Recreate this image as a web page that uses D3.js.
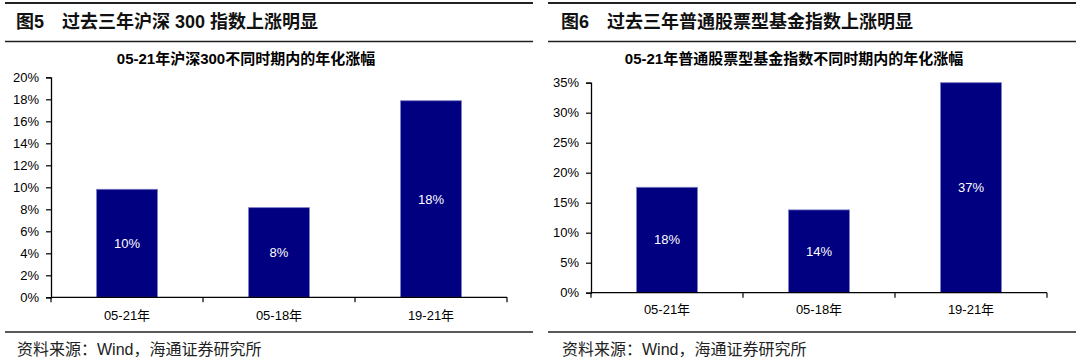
<!DOCTYPE html>
<html>
<head>
<meta charset="utf-8">
<script src="https://cdn.jsdelivr.net/npm/d3@7"></script>
<style>
  html, body { margin: 0; padding: 0; background: #fff; }
  svg { display: block; }
  text { font-family: "Liberation Sans", Arial, "Noto Sans CJK SC", sans-serif; }
</style>
</head>
<body>
<svg id="chart" width="1080" height="360"></svg>
<script>
// ---- data ----
const categories = ["05-21年", "05-18年", "19-21年"];
const hs300Values = [0.0982, 0.0815, 0.1787];
const fundValues = [0.1757, 0.138, 0.37];
const hs300Ticks = [0, 0.02, 0.04, 0.06, 0.08, 0.10, 0.12, 0.14, 0.16, 0.18, 0.20];
const fundTicks = [0, 0.05, 0.10, 0.15, 0.20, 0.25, 0.30, 0.35];
const headerNums = ["图5", "图6"];
const headerTitles = ["过去三年沪深 300 指数上涨明显", "过去三年普通股票型基金指数上涨明显"];
const chartTitles = ["05-21年沪深300不同时期内的年化涨幅", "05-21年普通股票型基金指数不同时期内的年化涨幅"];
const sourceText = "资料来源：Wind，海通证券研究所";

const svg = d3.select("#chart");
const pct = d3.format(".0%");

function drawPanel(opt) {
  const g = svg.append("g");
  // frame lines
  g.append("line").attr("x1", opt.lineX0).attr("x2", opt.lineX1).attr("y1", 3).attr("y2", 3)
    .attr("stroke", "#222").attr("stroke-width", 2);
  g.append("line").attr("x1", opt.lineX0).attr("x2", opt.lineX1).attr("y1", 41.5).attr("y2", 41.5)
    .attr("stroke", "#222").attr("stroke-width", 1.6);
  g.append("line").attr("x1", opt.lineX0).attr("x2", opt.lineX1).attr("y1", 332).attr("y2", 332)
    .attr("stroke", "#222").attr("stroke-width", 1.6);
  // header
  g.append("text").attr("x", opt.headX).attr("y", 22).attr("dominant-baseline", "central")
    .attr("font-size", 18).attr("font-weight", "bold").attr("fill", "#111").text(opt.headNum);
  g.append("text").attr("x", opt.headX + 46).attr("y", 22).attr("dominant-baseline", "central")
    .attr("font-size", 18).attr("font-weight", "bold").attr("fill", "#111").text(opt.headTitle);
  // chart title
  g.append("text").attr("x", opt.titleX).attr("y", 58).attr("dominant-baseline", "central")
    .attr("text-anchor", "middle").attr("font-size", 15).attr("font-weight", "bold").attr("fill", "#000")
    .text(opt.chartTitle);
  // source
  g.append("text").attr("x", opt.headX + 1).attr("y", 349).attr("dominant-baseline", "central")
    .attr("font-size", 16).attr("fill", "#222").text(sourceText);

  const x = d3.scaleBand().domain(categories).range([opt.x0, opt.x1]).paddingInner(0.6).paddingOuter(0.3);
  const y = d3.scaleLinear().domain([0, opt.yMax]).range([opt.y0, opt.y1]).clamp(true);

  // bars
  g.selectAll("rect.bar").data(opt.values).join("rect").attr("class", "bar")
    .attr("x", (d, i) => x(categories[i]))
    .attr("width", x.bandwidth())
    .attr("y", d => y(d))
    .attr("height", d => y(0) - y(d))
    .attr("fill", "#000080")
    .attr("stroke", "#7b7bc4").attr("stroke-width", 0.8);

  // bar labels
  g.selectAll("text.lbl").data(opt.values).join("text").attr("class", "lbl")
    .attr("x", (d, i) => x(categories[i]) + x.bandwidth() / 2)
    .attr("y", d => (y(d) + y(0)) / 2)
    .attr("text-anchor", "middle").attr("dominant-baseline", "central")
    .attr("font-size", 13).attr("fill", "#fff").text(d => pct(d));

  // y axis
  const yAxis = d3.axisLeft(y).tickValues(opt.ticks).tickFormat(pct).tickSize(5).tickPadding(7);
  const ya = g.append("g").attr("transform", `translate(${opt.x0},0)`).call(yAxis);
  ya.select(".domain").attr("stroke", "#000").attr("stroke-width", 1.3);
  ya.selectAll(".tick line").attr("stroke", "#000").attr("stroke-width", 1.2);
  ya.selectAll(".tick text").attr("font-size", 13).attr("fill", "#000")
    .style("font-family", "\"Liberation Sans\", Arial, sans-serif");

  // x axis (tick marks at category boundaries)
  const xa = g.append("g").attr("transform", `translate(0,${opt.y0})`);
  xa.append("line").attr("x1", opt.x0).attr("x2", opt.x1).attr("y1", 0).attr("y2", 0)
    .attr("stroke", "#000").attr("stroke-width", 1.3);
  const bounds = categories.map((c, i) => opt.x0 + i * x.step());
  bounds.push(opt.x1);
  xa.selectAll("line.tk").data(bounds).join("line").attr("class", "tk")
    .attr("x1", d => d).attr("x2", d => d).attr("y1", 0).attr("y2", 5)
    .attr("stroke", "#000").attr("stroke-width", 1.2);
  xa.selectAll("text.cat").data(categories).join("text").attr("class", "cat")
    .attr("x", d => x(d) + x.bandwidth() / 2).attr("y", opt.catDy)
    .attr("text-anchor", "middle").attr("dominant-baseline", "central")
    .attr("font-size", 13).attr("fill", "#000").text(d => d);
}

drawPanel({
  lineX0: 5, lineX1: 533, headX: 16,
  headNum: headerNums[0], headTitle: headerTitles[0], chartTitle: chartTitles[0], titleX: 246,
  values: hs300Values, ticks: hs300Ticks, yMax: 0.20,
  x0: 51, x1: 507, y0: 297.3, y1: 77.3, catDy: 18
});
drawPanel({
  lineX0: 548, lineX1: 1076, headX: 561,
  headNum: headerNums[1], headTitle: headerTitles[1], chartTitle: chartTitles[1], titleX: 794,
  values: fundValues, ticks: fundTicks, yMax: 0.35,
  x0: 591, x1: 1047, y0: 292.7, y1: 82.7, catDy: 17
});
</script>
</body>
</html>
